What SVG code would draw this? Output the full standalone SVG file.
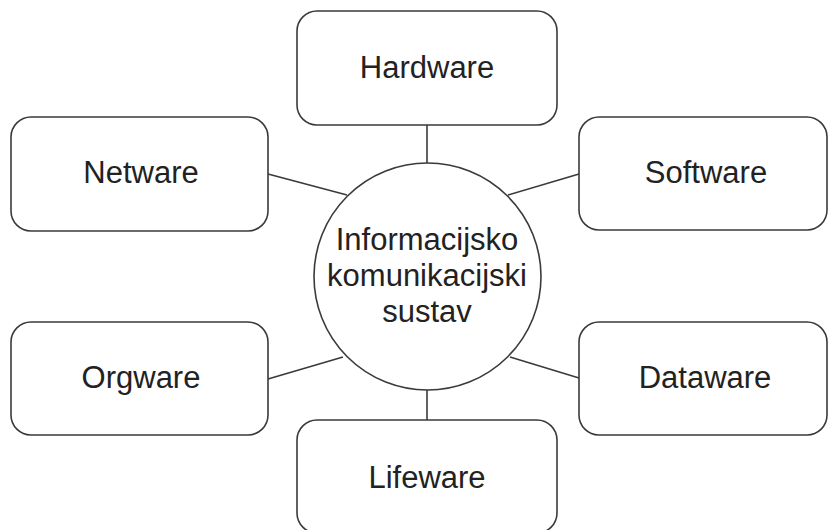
<svg xmlns="http://www.w3.org/2000/svg" width="828" height="530" viewBox="0 0 828 530">
<style>
.box{fill:#fff;stroke:#3a3a3a;stroke-width:1.6}
.ln{stroke:#3a3a3a;stroke-width:1.6;fill:none}
.t{font-family:"Liberation Sans",Arial,sans-serif;font-size:31px;fill:#222;text-anchor:middle}
</style>
<rect width="828" height="530" fill="#fff"/>
<g id="connectors">
<line class="ln" x1="427" y1="125" x2="427" y2="163"/>
<line class="ln" x1="268" y1="174" x2="347" y2="195"/>
<line class="ln" x1="579" y1="174" x2="508" y2="195"/>
<line class="ln" x1="268" y1="379" x2="343" y2="357"/>
<line class="ln" x1="579" y1="378" x2="510" y2="357"/>
<line class="ln" x1="427" y1="390" x2="427" y2="420"/>
</g>
<g id="hardware"><rect class="box" x="297" y="11" width="260" height="114" rx="20"/><text class="t" x="427" y="78">Hardware</text></g>
<g id="netware"><rect class="box" x="11" y="117" width="257" height="114" rx="20"/><text class="t" x="141" y="183">Netware</text></g>
<g id="software"><rect class="box" x="579" y="117" width="248" height="113" rx="20"/><text class="t" x="706" y="183">Software</text></g>
<g id="orgware"><rect class="box" x="11" y="322" width="257" height="113" rx="20"/><text class="t" x="141" y="388">Orgware</text></g>
<g id="dataware"><rect class="box" x="579" y="322" width="248" height="113" rx="20"/><text class="t" x="705" y="388">Dataware</text></g>
<g id="lifeware"><rect class="box" x="297" y="420" width="260" height="113" rx="20"/><text class="t" x="427" y="488">Lifeware</text></g>
<g id="center"><circle class="box" cx="427.5" cy="276.5" r="113.5"/>
<text class="t" x="427" y="250">Informacijsko</text>
<text class="t" x="427" y="286">komunikacijski</text>
<text class="t" x="427" y="322">sustav</text></g>
</svg>
